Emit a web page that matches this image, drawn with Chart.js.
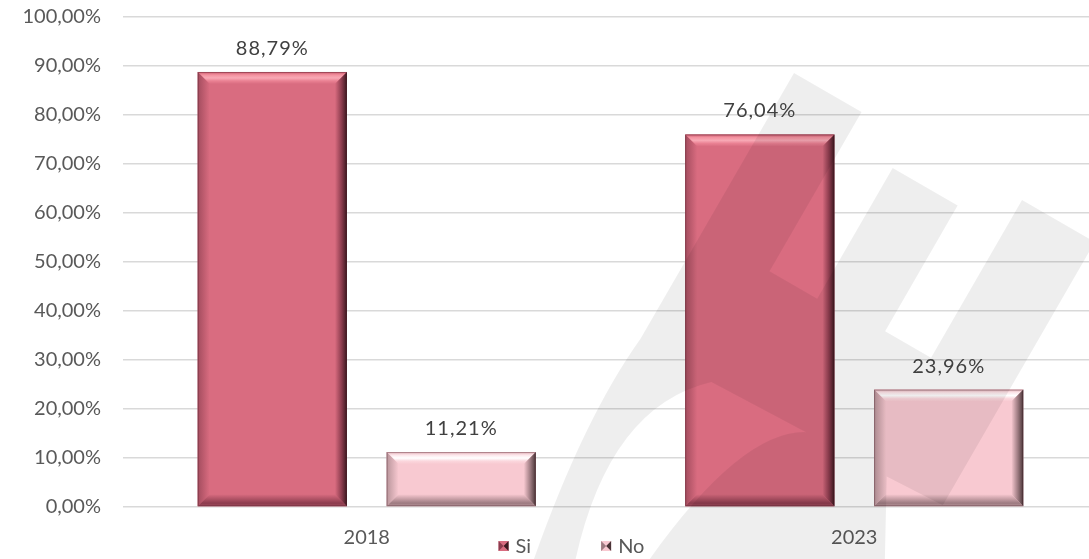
<!DOCTYPE html>
<html>
<head>
<meta charset="utf-8">
<script src="https://cdn.jsdelivr.net/npm/chart.js@4/dist/chart.umd.min.js"></script>
<style>
  body { margin: 0; background: #fff; overflow: hidden; }
  #caja { width: 1100px; height: 559px; position: relative; }
</style>
</head>
<body>
<div id="caja"><canvas id="grafico"></canvas></div>
<script>
const categorias = ['2018', '2023']
const serieSi = [88.79, 76.04]
const serieNo = [11.21, 23.96]
const nombresSeries = ['Si', 'No']
const ejeYMin = 0
const ejeYMax = 100
const ejeYPaso = 10

const fuente = 'Lato, "Open Sans", sans-serif'
const grisTexto = '#595959'

// colores de cada serie: cara, brillo arriba, sombra
const estilos = [
    { cara: '#d96c80', arriba: ['#c9586c', '#f3919f', '#f8a9b5', '#ea8193', '#d96c80'], sombra: '#3c1820', abajo: '#8c3c4e', izq: '#a34c5e' },
    { cara: '#f8c9d1', arriba: ['#e7b4bc', '#fde6ea', '#ffffff', '#fbd7dd', '#f8c9d1'], sombra: '#4a3538', abajo: '#9c7a80', izq: '#b8949a' }
]

const formato = (v) => v.toFixed(2).replace('.', ',') + '%'

const biselar = (ctx, el, est) => {
    const { x, y, base, width } = el.getProps(['x', 'y', 'base', 'width'], true)
    const l = x - width / 2, r = x + width / 2, t = Math.min(y, base), b = Math.max(y, base)
    const s = Math.min(12, (b - t) / 2)
    // arriba
    let g = ctx.createLinearGradient(0, t, 0, t + s)
    est.arriba.forEach((c, i) => g.addColorStop(i / (est.arriba.length - 1), c))
    ctx.fillStyle = g
    ctx.beginPath(); ctx.moveTo(l, t); ctx.lineTo(r, t); ctx.lineTo(r - s, t + s); ctx.lineTo(l + s, t + s); ctx.closePath(); ctx.fill()
    // izquierda
    g = ctx.createLinearGradient(l, 0, l + s, 0)
    g.addColorStop(0, est.izq); g.addColorStop(1, est.cara)
    ctx.fillStyle = g
    ctx.beginPath(); ctx.moveTo(l, t); ctx.lineTo(l + s, t + s); ctx.lineTo(l + s, b - s); ctx.lineTo(l, b); ctx.closePath(); ctx.fill()
    // abajo
    g = ctx.createLinearGradient(0, b - s, 0, b)
    g.addColorStop(0, est.cara); g.addColorStop(0.75, est.abajo); g.addColorStop(1, est.izq)
    ctx.fillStyle = g
    ctx.beginPath(); ctx.moveTo(l, b); ctx.lineTo(l + s, b - s); ctx.lineTo(r - s, b - s); ctx.lineTo(r, b); ctx.closePath(); ctx.fill()
    // derecha
    g = ctx.createLinearGradient(r - s, 0, r, 0)
    g.addColorStop(0, est.cara); g.addColorStop(0.55, est.abajo); g.addColorStop(1, est.sombra)
    ctx.fillStyle = g
    ctx.beginPath(); ctx.moveTo(r, t); ctx.lineTo(r, b); ctx.lineTo(r - s, b - s); ctx.lineTo(r - s, t + s); ctx.closePath(); ctx.fill()
    ctx.strokeStyle = 'rgba(60,20,30,0.35)'
    ctx.lineWidth = 1
    ctx.strokeRect(l + 0.5, t + 0.5, width - 1, b - t - 1)
}

// marca de agua gris del fondo (decorativa)
const marcaAgua = (ctx) => {
    const ox = 794, oy = 73, co = Math.cos(Math.PI / 6), se = Math.sin(Math.PI / 6)
    const p = (u, v) => [ox + u * co - v * se, oy + u * se + v * co]
    const bandas = [[0, 0], [78, 0], [78, 184], [133, 184], [133, 33], [208, 33], [208, 178], [261, 178], [261, -4], [345, -4], [345, 300], [282, 303]]
    ctx.save()
    ctx.fillStyle = 'rgba(0,0,0,0.066)'
    ctx.beginPath()
    bandas.forEach(([u, v], i) => {
        const [px, py] = p(u, v)
        i ? ctx.lineTo(px, py) : ctx.moveTo(px, py)
    })
    ctx.lineTo(884, 600)
    ctx.lineTo(622, 600)
    ctx.quadraticCurveTo(732, 430, ...p(190, 305))
    ctx.lineTo(...p(83, 309))
    ctx.quadraticCurveTo(597, 409, 568, 600)
    ctx.lineTo(520, 600)
    ctx.quadraticCurveTo(576, 429, ...p(0, 307))
    ctx.closePath()
    ctx.fill()
    ctx.restore()
}

const pluginBarras = {
    id: 'barrasBiseladas',
    afterDatasetsDraw(chart) {
        const ctx = chart.ctx
        chart.data.datasets.forEach((ds, i) => {
            chart.getDatasetMeta(i).data.forEach(el => biselar(ctx, el, estilos[i]))
        })
        marcaAgua(ctx)
        ctx.save()
        ctx.font = '20px ' + fuente
        ctx.letterSpacing = '1px'
        ctx.fillStyle = '#404040'
        ctx.textAlign = 'center'
        ctx.textBaseline = 'alphabetic'
        chart.data.datasets.forEach((ds, i) => {
            chart.getDatasetMeta(i).data.forEach((el, j) => {
                ctx.fillText(formato(ds.data[j]), el.x, el.y - 17)
            })
        })
        ctx.restore()
    },
    afterDraw(chart) {
        // leyenda abajo
        const ctx = chart.ctx
        const area = chart.chartArea
        ctx.save()
        ctx.font = '20px ' + fuente
        ctx.textBaseline = 'middle'
        ctx.textAlign = 'left'
        const caja = 10, sep = 7, hueco = 70
        const anchos = chart.data.datasets.map(ds => caja + sep + ctx.measureText(ds.label).width)
        const total = anchos.reduce((a, b) => a + b, 0) + hueco * (anchos.length - 1)
        let x = area.left + area.width * 0.46 - total / 2
        const y = 546
        chart.data.datasets.forEach((ds, i) => {
            const est = estilos[i]
            ctx.fillStyle = est.cara
            ctx.fillRect(x, y - caja / 2, caja, caja)
            ctx.fillStyle = est.abajo
            ctx.beginPath(); ctx.moveTo(x, y - caja / 2); ctx.lineTo(x + caja / 2, y); ctx.lineTo(x, y + caja / 2); ctx.closePath(); ctx.fill()
            ctx.fillStyle = est.sombra
            ctx.beginPath(); ctx.moveTo(x + caja, y - caja / 2); ctx.lineTo(x + caja / 2, y); ctx.lineTo(x + caja, y + caja / 2); ctx.closePath(); ctx.fill()
            ctx.fillStyle = grisTexto
            ctx.fillText(ds.label, x + caja + sep, y + 1)
            x += anchos[i] + hueco
        })
        ctx.restore()
    }
}

const ctx = document.getElementById('grafico').getContext('2d')
const grafico = new Chart(ctx, {
    type: 'bar',
    data: {
        labels: categorias,
        datasets: [{
            label: nombresSeries[0],
            data: serieSi,
            backgroundColor: estilos[0].cara
        }, {
            label: nombresSeries[1],
            data: serieNo,
            backgroundColor: estilos[1].cara
        }]
    },
    options: {
        responsive: true,
        maintainAspectRatio: false,
        animation: false,
        categoryPercentage: 0.775,
        barPercentage: 0.79,
        layout: { padding: { top: 17, right: 2, left: 10, bottom: -2 } },
        plugins: {
            legend: { display: false },
            tooltip: { enabled: false }
        },
        scales: {
            x: {
                grid: { display: false },
                border: { display: false },
                ticks: { color: grisTexto, font: { family: fuente, size: 20 }, padding: 11 }
            },
            y: {
                min: ejeYMin,
                max: ejeYMax,
                afterFit: (escala) => {
                    escala.width = 113
                    escala.paddingTop = 0
                    escala.paddingBottom = 0
                },
                grid: { color: '#d9d9d9', lineWidth: 1.6, drawTicks: false },
                border: { display: false },
                ticks: {
                    stepSize: ejeYPaso,
                    padding: 22,
                    color: grisTexto,
                    font: { family: fuente, size: 20 },
                    callback: (v) => formato(v)
                }
            }
        }
    },
    plugins: [pluginBarras]
})
</script>
</body>
</html>
